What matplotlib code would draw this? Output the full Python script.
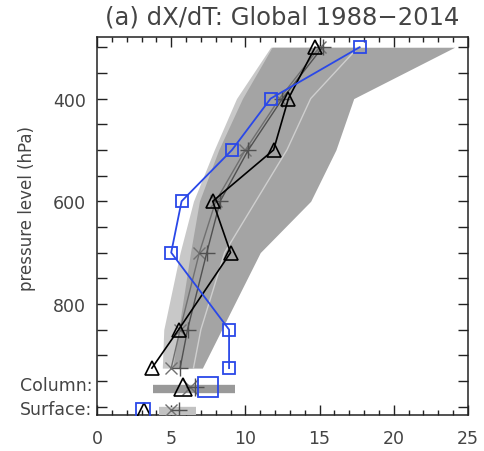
import numpy as np
import matplotlib

matplotlib.use("Agg")
import matplotlib.pyplot as plt
from matplotlib.transforms import blended_transform_factory

# pressure levels (hPa) and pseudo-levels for the column / surface rows
levels = [300, 400, 500, 600, 700, 850, 925]
column_p = 962
surface_p = 1006

# shaded ranges
dark_left = [11.8, 9.8, 8.2, 6.9, 6.3, 5.5, 5.1]
dark_right = [24.1, 17.3, 16.1, 14.4, 11.0, 8.4, 7.1]
light_left = [11.7, 9.4, 7.9, 6.5, 5.6, 4.5, 4.4]
light_mid = [17.6, 14.4, 12.8, 10.7, 8.6, 7.0, 6.5]
column_range = [3.8, 9.3]
surface_range = [4.2, 6.7]

# series
blue_sq = [17.7, 11.7, 9.1, 5.7, 5.0, 8.9, 8.9]
blue_col, blue_sfc = 7.5, 3.1
tri = [14.7, 12.9, 11.9, 7.8, 9.0, 5.5, 3.7]
tri_col, tri_sfc = 5.8, 3.2
xs = [15.0, 12.3, 10.0, 8.0, 6.9, 5.6, 5.0]
xs_col, xs_sfc = 6.3, 5.0
plus = [15.2, 12.5, 10.2, 8.3, 7.4, 6.1, 5.6]
plus_col, plus_sfc = 6.6, 5.5

BLUE = "#2a48e8"

fig = plt.figure(figsize=(4.84, 4.52), dpi=100)
ax = fig.add_axes([0.2004, 0.080, 0.7665, 0.836])

ax.fill_betweenx(levels, light_left, light_mid, color="#c8c8c8", lw=0, zorder=1)
ax.fill_betweenx(levels, dark_left, dark_right, color="#a4a4a4", lw=0, zorder=2)
ax.plot(light_mid, levels, color="#cfcfcf", lw=1.0, zorder=3)

ax.plot(column_range, [column_p + 4] * 2, color="#999999", lw=6, solid_capstyle="butt", zorder=3)
ax.plot(surface_range, [surface_p + 2] * 2, color="#c2c2c2", lw=6, solid_capstyle="butt", zorder=3)

ax.plot(xs, levels, color="#707070", lw=1.0, marker="x", ms=9, mew=1.0, zorder=4)
ax.plot(plus, levels, color="#505050", lw=1.0, marker="+", ms=11, mew=1.0, zorder=4)
ax.plot(tri, levels, color="black", lw=1.2, marker="^", ms=10, mfc="none", mew=1.2, zorder=5)
ax.plot(blue_sq, levels, color=BLUE, lw=1.3, marker="s", ms=9, mfc="none", mew=1.3, zorder=6)

# column and surface values
ax.plot([xs_col], [column_p], color="#707070", marker="x", ms=11, mew=1.0, zorder=4)
ax.plot([plus_col], [column_p], color="#505050", marker="+", ms=13, mew=1.0, zorder=4)
ax.plot([tri_col], [column_p], color="black", marker="^", ms=13, mfc="none", mew=1.2, zorder=5)
ax.plot([blue_col], [column_p], color=BLUE, marker="s", ms=14, mfc="none", mew=1.3, zorder=6)
ax.plot([xs_sfc], [surface_p], color="#707070", marker="x", ms=9, mew=1.0, zorder=4)
ax.plot([plus_sfc], [surface_p], color="#505050", marker="+", ms=11, mew=1.0, zorder=4)
ax.plot([tri_sfc], [surface_p], color="black", marker="^", ms=10, mfc="none", mew=1.2, zorder=5)
ax.plot([blue_sfc], [surface_p], color=BLUE, marker="s", ms=10, mfc="none", mew=1.3, zorder=6)

ax.set_xlim(0, 25)
ax.set_ylim(1016, 280)

ax.set_xticks(np.arange(0, 26, 5))
ax.set_xticks(np.arange(0, 26, 1), minor=True)
ax.set_xticklabels(["0", "5", "10", "15", "20", "25"])
yt = np.arange(300, 1001, 50)
ax.set_yticks(yt)
ax.set_yticklabels([str(v) if v in (400, 600, 800) else "" for v in yt])
ax.tick_params(which="both", direction="in", top=True, right=True, colors="#222222",
               labelcolor="#444444", labelsize=12.5, width=1.0)
ax.tick_params(which="major", length=7, pad=8)
ax.tick_params(which="minor", length=3.5)
ax.tick_params(axis="x", pad=10)
for s in ax.spines.values():
    s.set_color("#222222")
    s.set_linewidth(1.1)

tr = blended_transform_factory(ax.transAxes, ax.transData)
ax.text(-0.012, 958, "Column:", transform=tr, ha="right", va="center", fontsize=12.5, color="#444444")
ax.text(-0.012, 1004, "Surface:", transform=tr, ha="right", va="center", fontsize=12.5, color="#444444")

ax.set_ylabel("pressure level (hPa)", fontsize=12, color="#444444")
ax.yaxis.set_label_coords(-0.165, 0.55, transform=ax.transAxes)
fig.text(0.582, 0.962, "(a) dX/dT: Global 1988\u22122014", ha="center", va="center",
         fontsize=17.5, color="#444444")

fig.savefig("out.png", dpi=100)
